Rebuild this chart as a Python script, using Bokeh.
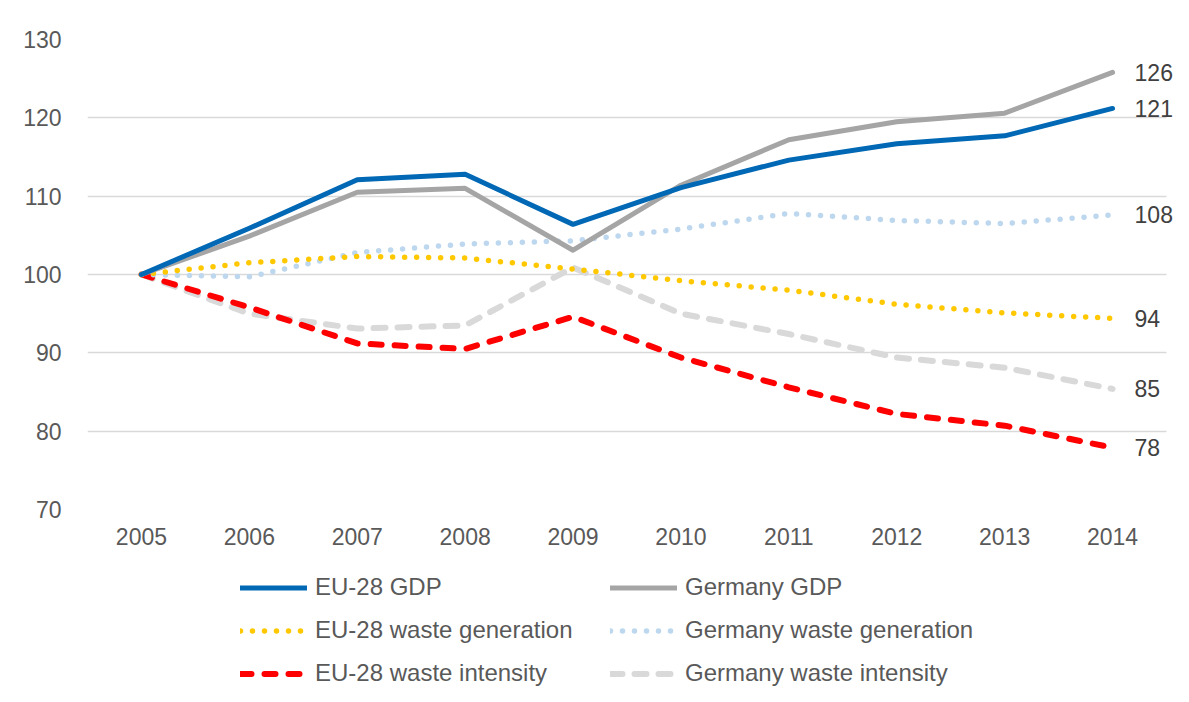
from bokeh.plotting import figure
from bokeh.layouts import column
from bokeh.models import Range1d, FixedTicker, Legend, LegendItem, Label, BoxAnnotation
from bokeh.embed import file_html
from bokeh.resources import INLINE

years = [2005, 2006, 2007, 2008, 2009, 2010, 2011, 2012, 2013, 2014]
eu_gdp = [100, 105.9, 112.1, 112.8, 106.4, 111.1, 114.6, 116.7, 117.7, 121.2]
de_gdp = [100, 104.9, 110.5, 111.0, 103.1, 111.4, 117.2, 119.5, 120.6, 125.8]
eu_waste_gen = [100, 101.5, 102.3, 102.1, 100.7, 99.2, 98.0, 96.2, 95.1, 94.4]
de_waste_gen = [100, 99.7, 102.8, 103.9, 104.3, 105.8, 107.8, 106.9, 106.5, 107.6]
eu_waste_int = [100, 95.8, 91.2, 90.5, 94.6, 89.4, 85.6, 82.2, 80.7, 77.9]
de_waste_int = [100, 95.0, 93.1, 93.5, 100.9, 95.0, 92.4, 89.4, 88.1, 85.4]
y_ticks = [70, 80, 90, 100, 110, 120, 130]

FONT = "Liberation Sans"
LABEL_ROOM = 23 / 107.9   # extra room (in years) right of the last category for end labels

p = figure(width=1189, height=560,
           x_range=Range1d(years[0] - 0.5, years[-1] + 0.5 + LABEL_ROOM),
           y_range=Range1d(70, 130), output_backend="svg", toolbar_location=None,
           min_border_left=87, min_border_right=0, min_border_top=39, min_border_bottom=51,
           outline_line_color=None, background_fill_color="white", border_fill_color="white")

p.xgrid.grid_line_color = None
p.ygrid.grid_line_color = "#d9d9d9"
p.ygrid.grid_line_width = 1.3
p.yaxis.ticker = FixedTicker(ticks=y_ticks)
p.xaxis.ticker = FixedTicker(ticks=years)
for ax in (p.xaxis, p.yaxis):
    ax.axis_line_color = None
    ax.major_tick_line_color = None
    ax.minor_tick_line_color = None
    ax.major_label_text_font = FONT
    ax.major_label_text_font_size = "23px"
    ax.major_label_text_color = "#595959"
p.yaxis.major_label_standoff = 20
p.xaxis.major_label_standoff = 12

# gridlines stop at the edge of the last category
p.add_layout(BoxAnnotation(left=years[-1] + 0.5, fill_color="white", fill_alpha=1,
                           line_color=None, level="underlay"))

series = [
    ("EU-28 GDP", eu_gdp, "#0068B4", "solid", 5),
    ("Germany GDP", de_gdp, "#A5A5A5", "solid", 5),
    ("EU-28 waste generation", eu_waste_gen, "#FFC800", "0 12", 5.5),
    ("Germany waste generation", de_waste_gen, "#BDD7EE", "0 12", 5.5),
    ("EU-28 waste intensity", eu_waste_int, "#FF0000", "11 13", 6),
    ("Germany waste intensity", de_waste_int, "#D9D9D9", "12 12", 6),
]

for i in [5, 4, 3, 2, 1, 0]:
    name, vals, col, dash, w = series[i]
    p.line(years, vals, line_color=col, line_width=w, line_dash=dash,
           line_cap="round", line_join="round")

for name, vals, col, dash, w in series:
    p.add_layout(Label(x=years[-1], y=vals[-1], x_offset=22, text=f"{round(vals[-1])}",
                       text_font=FONT, text_font_size="23px", text_color="#404040",
                       text_baseline="middle", text_align="left"))

# legend strip below the chart (its frame is aligned with the chart's frame)
lf = figure(width=1189, height=142, x_range=Range1d(0, 1), y_range=Range1d(0, 1),
            output_backend="svg", toolbar_location=None, x_axis_type=None, y_axis_type=None,
            min_border_left=87, min_border_right=0, min_border_top=0, min_border_bottom=0,
            outline_line_color=None, background_fill_color="white", border_fill_color="white")
lf.xgrid.grid_line_color = None
lf.ygrid.grid_line_color = None
items = []
for name, vals, col, dash, w in series:
    r = lf.line(years, vals, line_color=col, line_width=w, line_dash=dash,
                line_cap="round", line_join="round")
    items.append(LegendItem(label=name, renderers=[r]))

for col_idx, loc in ((0, (153, 15)), (1, (523, 15))):
    lg = Legend(items=items[col_idx::2], location=loc, glyph_width=67, glyph_height=27,
                label_height=27, label_standoff=8, spacing=15, padding=0, margin=0,
                border_line_color=None, background_fill_alpha=0,
                label_text_font=FONT, label_text_font_size="24px", label_text_color="#595959",
                orientation="vertical")
    lf.add_layout(lg, "center")

layout = column(p, lf, spacing=0)
open("out.html", "w").write(file_html(layout, INLINE))
